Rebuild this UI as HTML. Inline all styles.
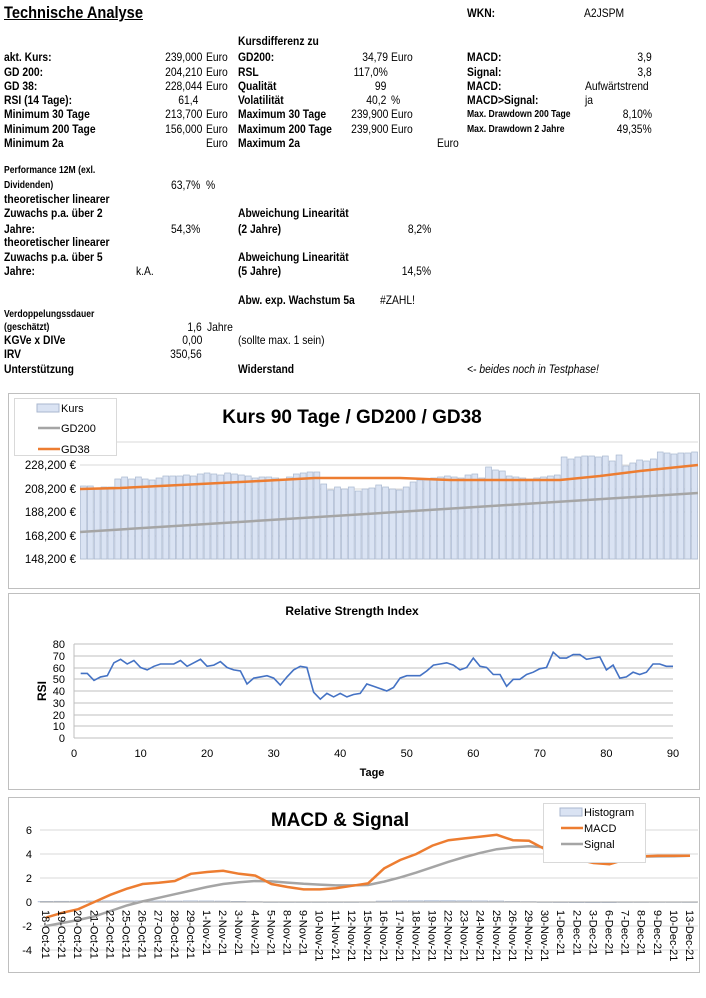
<!DOCTYPE html>
<html><head><meta charset="utf-8"><style>
body{margin:0;width:706px;height:998px;background:#fff;position:relative;overflow:hidden;font-family:"Liberation Sans",sans-serif}
.t,.r,.n,.nr{position:absolute;white-space:nowrap;font-size:12px;line-height:14px;color:#000}
.t,.r{font-weight:bold}
.t,.n{transform:scaleX(.86);transform-origin:left}
.r,.nr{transform:scaleX(.86);transform-origin:right}
.s{font-size:10px}
svg{position:absolute;left:0;top:0}
</style></head><body>
<div class="t" style="left:4px;top:3px;font-size:17px;line-height:20px;text-decoration:underline">Technische Analyse</div>
<div class="t" style="left:467px;top:6px">WKN:</div>
<div class="n" style="left:584px;top:6px">A2JSPM</div>

<div class="t" style="left:238px;top:34px">Kursdifferenz zu</div>
<div class="t" style="left:4px;top:50px">akt. Kurs:</div><div class="nr" style="right:504px;top:50px">239,000</div><div class="n" style="left:206px;top:50px">Euro</div>
<div class="t" style="left:238px;top:50px">GD200:</div><div class="nr" style="right:318px;top:50px">34,79</div><div class="n" style="left:391px;top:50px">Euro</div>
<div class="t" style="left:467px;top:50px">MACD:</div><div class="nr" style="right:54px;top:50px">3,9</div>

<div class="t" style="left:4px;top:65px">GD 200:</div><div class="nr" style="right:504px;top:65px">204,210</div><div class="n" style="left:206px;top:65px">Euro</div>
<div class="t" style="left:238px;top:65px">RSL</div><div class="nr" style="right:318px;top:65px">117,0%</div>
<div class="t" style="left:467px;top:65px">Signal:</div><div class="nr" style="right:54px;top:65px">3,8</div>

<div class="t" style="left:4px;top:79px">GD 38:</div><div class="nr" style="right:504px;top:79px">228,044</div><div class="n" style="left:206px;top:79px">Euro</div>
<div class="t" style="left:238px;top:79px">Qualität</div><div class="nr" style="right:320px;top:79px">99</div>
<div class="t" style="left:467px;top:79px">MACD:</div><div class="n" style="left:585px;top:79px">Aufwärtstrend</div>

<div class="t" style="left:4px;top:93px">RSI (14 Tage):</div><div class="nr" style="right:508px;top:93px">61,4</div>
<div class="t" style="left:238px;top:93px">Volatilität</div><div class="nr" style="right:320px;top:93px">40,2</div><div class="n" style="left:391px;top:93px">%</div>
<div class="t" style="left:467px;top:93px">MACD&gt;Signal:</div><div class="n" style="left:585px;top:93px">ja</div>

<div class="t" style="left:4px;top:107px">Minimum 30 Tage</div><div class="nr" style="right:504px;top:107px">213,700</div><div class="n" style="left:206px;top:107px">Euro</div>
<div class="t" style="left:238px;top:107px">Maximum 30 Tage</div><div class="nr" style="right:318px;top:107px">239,900</div><div class="n" style="left:391px;top:107px">Euro</div>
<div class="t s" style="left:467px;top:108px">Max. Drawdown 200 Tage</div><div class="nr" style="right:54px;top:107px">8,10%</div>

<div class="t" style="left:4px;top:122px">Minimum 200 Tage</div><div class="nr" style="right:504px;top:122px">156,000</div><div class="n" style="left:206px;top:122px">Euro</div>
<div class="t" style="left:238px;top:122px">Maximum 200 Tage</div><div class="nr" style="right:318px;top:122px">239,900</div><div class="n" style="left:391px;top:122px">Euro</div>
<div class="t s" style="left:467px;top:123px">Max. Drawdown 2 Jahre</div><div class="nr" style="right:54px;top:122px">49,35%</div>

<div class="t" style="left:4px;top:136px">Minimum 2a</div><div class="n" style="left:206px;top:136px">Euro</div>
<div class="t" style="left:238px;top:136px">Maximum 2a</div><div class="n" style="left:437px;top:136px">Euro</div>

<div class="t s" style="left:4px;top:164px">Performance 12M (exl.</div>
<div class="t s" style="left:4px;top:179px">Dividenden)</div><div class="n" style="left:171px;top:178px">63,7%</div><div class="n" style="left:206px;top:178px">%</div>
<div class="t" style="left:4px;top:192px">theoretischer linearer</div>
<div class="t" style="left:4px;top:206px">Zuwachs p.a. über 2</div><div class="t" style="left:238px;top:206px">Abweichung Linearität</div>
<div class="t" style="left:4px;top:222px">Jahre:</div><div class="n" style="left:171px;top:222px">54,3%</div><div class="t" style="left:238px;top:222px">(2 Jahre)</div><div class="nr" style="right:275px;top:222px">8,2%</div>
<div class="t" style="left:4px;top:235px">theoretischer linearer</div>
<div class="t" style="left:4px;top:250px">Zuwachs p.a. über 5</div><div class="t" style="left:238px;top:250px">Abweichung Linearität</div>
<div class="t" style="left:4px;top:264px">Jahre:</div><div class="n" style="left:136px;top:264px">k.A.</div><div class="t" style="left:238px;top:264px">(5 Jahre)</div><div class="nr" style="right:275px;top:264px">14,5%</div>
<div class="t" style="left:238px;top:293px">Abw. exp. Wachstum 5a</div><div class="n" style="left:380px;top:293px">#ZAHL!</div>
<div class="t s" style="left:4px;top:308px">Verdoppelungssdauer</div>
<div class="t s" style="left:4px;top:321px">(geschätzt)</div><div class="nr" style="right:504px;top:320px">1,6</div><div class="n" style="left:207px;top:320px">Jahre</div>
<div class="t" style="left:4px;top:333px">KGVe x DIVe</div><div class="nr" style="right:504px;top:333px">0,00</div><div class="n" style="left:238px;top:333px">(sollte max. 1 sein)</div>
<div class="t" style="left:4px;top:347px">IRV</div><div class="nr" style="right:504px;top:347px">350,56</div>
<div class="t" style="left:4px;top:362px">Unterstützung</div><div class="t" style="left:238px;top:362px">Widerstand</div>
<div class="n" style="left:467px;top:362px;font-style:italic">&lt;- beides noch in Testphase!</div>

<svg width="706" height="998" font-family="Liberation Sans, sans-serif">
<!-- chart1 -->
<rect x="8.5" y="393.5" width="691" height="195" fill="#fff" stroke="#bfbfbf"/>
<g stroke="#d9d9d9"><line x1="80" x2="698" y1="442" y2="442"/><line x1="80" x2="698" y1="465" y2="465"/><line x1="80" x2="698" y1="489" y2="489"/><line x1="80" x2="698" y1="512" y2="512"/><line x1="80" x2="698" y1="536" y2="536"/><line x1="80" x2="698" y1="559" y2="559"/></g>
<g id="bars" fill="#dae3f3" stroke="#a9b7cf" stroke-width="0.7"></g>
<polyline id="gd200" fill="none" stroke="#a5a5a5" stroke-width="2.5" points="80,532 698,493"/>
<polyline fill="none" stroke="#ed7d31" stroke-width="2.5" points="80,489 120,488 200,484 260,481 315,478 400,478 450,480 560,480 600,476 640,471 698,465"/>
<g font-size="11.5" text-anchor="end"><text x="76" y="469">228,200 €</text><text x="76" y="493">208,200 €</text><text x="76" y="516">188,200 €</text><text x="76" y="540">168,200 €</text><text x="76" y="563">148,200 €</text></g>
<text x="352" y="423" font-size="19" font-weight="bold" text-anchor="middle">Kurs 90 Tage / GD200 / GD38</text>
<rect x="14.5" y="398.5" width="102" height="57" fill="#fff" stroke="#d9d9d9"/>
<rect x="37" y="404" width="22" height="8" fill="#dae3f3" stroke="#a9b7cf"/>
<text x="61" y="412" font-size="11">Kurs</text>
<line x1="38" x2="60" y1="428" y2="428" stroke="#a5a5a5" stroke-width="2.5"/><text x="61" y="432" font-size="11">GD200</text>
<line x1="38" x2="60" y1="449" y2="449" stroke="#ed7d31" stroke-width="2.5"/><text x="61" y="453" font-size="11">GD38</text>

<!-- chart2 -->
<rect x="8.5" y="593.5" width="691" height="196" fill="#fff" stroke="#bfbfbf"/>
<g stroke="#bfbfbf"><line x1="74" x2="673" y1="644" y2="644"/><line x1="74" x2="673" y1="656" y2="656"/><line x1="74" x2="673" y1="668" y2="668"/><line x1="74" x2="673" y1="679" y2="679"/><line x1="74" x2="673" y1="691" y2="691"/><line x1="74" x2="673" y1="703" y2="703"/><line x1="74" x2="673" y1="715" y2="715"/><line x1="74" x2="673" y1="726" y2="726"/><line x1="74" x2="673" y1="738" y2="738"/><line x1="74" x2="74" y1="644" y2="738"/></g>
<polyline id="rsi" fill="none" stroke="#4472c4" stroke-width="1.6"/>
<text x="352" y="615" font-size="12" font-weight="bold" text-anchor="middle">Relative Strength Index</text>
<g font-size="11" text-anchor="end"><text x="65" y="648">80</text><text x="65" y="660">70</text><text x="65" y="672">60</text><text x="65" y="683">50</text><text x="65" y="695">40</text><text x="65" y="707">30</text><text x="65" y="719">20</text><text x="65" y="730">10</text><text x="65" y="742">0</text></g>
<g font-size="11" text-anchor="middle"><text x="74" y="757">0</text><text x="140.6" y="757">10</text><text x="207.1" y="757">20</text><text x="273.7" y="757">30</text><text x="340.2" y="757">40</text><text x="406.8" y="757">50</text><text x="473.3" y="757">60</text><text x="539.9" y="757">70</text><text x="606.4" y="757">80</text><text x="673" y="757">90</text></g>
<text x="372" y="776" font-size="11" font-weight="bold" text-anchor="middle">Tage</text>
<text x="46" y="691" font-size="12" font-weight="bold" text-anchor="middle" transform="rotate(-90 46 691)">RSI</text>

<!-- chart3 -->
<rect x="8.5" y="797.5" width="691" height="175" fill="#fff" stroke="#bfbfbf"/>
<g stroke="#d9d9d9"><line x1="40" x2="698" y1="830" y2="830"/><line x1="40" x2="698" y1="854" y2="854"/><line x1="40" x2="698" y1="878" y2="878"/><line x1="40" x2="698" y1="926" y2="926"/><line x1="40" x2="698" y1="950" y2="950"/></g>
<g id="hist" fill="#dae3f3" stroke="#b4c0d6" stroke-width="0.5"></g>
<line x1="40" x2="698" y1="902" y2="902" stroke="#a0a0a0"/>
<polyline id="sig" fill="none" stroke="#a5a5a5" stroke-width="2.5"/>
<polyline id="macd" fill="none" stroke="#ed7d31" stroke-width="2.5"/>
<text x="340" y="826" font-size="19" font-weight="bold" text-anchor="middle">MACD &amp; Signal</text>
<g font-size="11" text-anchor="end"><text x="32" y="834">6</text><text x="32" y="858">4</text><text x="32" y="882">2</text><text x="32" y="906">0</text><text x="32" y="930">-2</text><text x="32" y="954">-4</text></g>
<rect x="543.5" y="803.5" width="102" height="59" fill="#fff" stroke="#d9d9d9"/>
<rect x="560" y="808" width="22" height="8" fill="#dae3f3" stroke="#a9b7cf"/><text x="584" y="816" font-size="11">Histogram</text>
<line x1="561" x2="583" y1="828" y2="828" stroke="#ed7d31" stroke-width="2.5"/><text x="584" y="832" font-size="11">MACD</text>
<line x1="561" x2="583" y1="844" y2="844" stroke="#a5a5a5" stroke-width="2.5"/><text x="584" y="848" font-size="11">Signal</text>
<g id="dl" font-size="11">
<text transform="translate(42,910) rotate(90)">18-Oct-21</text><text transform="translate(58.1,910) rotate(90)">19-Oct-21</text><text transform="translate(74.2,910) rotate(90)">20-Oct-21</text><text transform="translate(90.3,910) rotate(90)">21-Oct-21</text><text transform="translate(106.4,910) rotate(90)">22-Oct-21</text><text transform="translate(122.5,910) rotate(90)">25-Oct-21</text><text transform="translate(138.6,910) rotate(90)">26-Oct-21</text><text transform="translate(154.7,910) rotate(90)">27-Oct-21</text><text transform="translate(170.8,910) rotate(90)">28-Oct-21</text><text transform="translate(186.9,910) rotate(90)">29-Oct-21</text>
<text transform="translate(203,910) rotate(90)">1-Nov-21</text><text transform="translate(219.1,910) rotate(90)">2-Nov-21</text><text transform="translate(235.2,910) rotate(90)">3-Nov-21</text><text transform="translate(251.3,910) rotate(90)">4-Nov-21</text><text transform="translate(267.4,910) rotate(90)">5-Nov-21</text><text transform="translate(283.5,910) rotate(90)">8-Nov-21</text><text transform="translate(299.6,910) rotate(90)">9-Nov-21</text><text transform="translate(315.7,910) rotate(90)">10-Nov-21</text><text transform="translate(331.8,910) rotate(90)">11-Nov-21</text><text transform="translate(347.9,910) rotate(90)">12-Nov-21</text><text transform="translate(364,910) rotate(90)">15-Nov-21</text><text transform="translate(380.1,910) rotate(90)">16-Nov-21</text><text transform="translate(396.2,910) rotate(90)">17-Nov-21</text><text transform="translate(412.3,910) rotate(90)">18-Nov-21</text><text transform="translate(428.4,910) rotate(90)">19-Nov-21</text><text transform="translate(444.5,910) rotate(90)">22-Nov-21</text><text transform="translate(460.6,910) rotate(90)">23-Nov-21</text><text transform="translate(476.7,910) rotate(90)">24-Nov-21</text><text transform="translate(492.8,910) rotate(90)">25-Nov-21</text><text transform="translate(508.9,910) rotate(90)">26-Nov-21</text><text transform="translate(525,910) rotate(90)">29-Nov-21</text><text transform="translate(541.1,910) rotate(90)">30-Nov-21</text>
<text transform="translate(557.2,910) rotate(90)">1-Dec-21</text><text transform="translate(573.3,910) rotate(90)">2-Dec-21</text><text transform="translate(589.4,910) rotate(90)">3-Dec-21</text><text transform="translate(605.5,910) rotate(90)">6-Dec-21</text><text transform="translate(621.6,910) rotate(90)">7-Dec-21</text><text transform="translate(637.7,910) rotate(90)">8-Dec-21</text><text transform="translate(653.8,910) rotate(90)">9-Dec-21</text><text transform="translate(669.9,910) rotate(90)">10-Dec-21</text><text transform="translate(686,910) rotate(90)">13-Dec-21</text>
</g>
</svg>
<script>
var ns="http://www.w3.org/2000/svg";
var K=[486,486,488,487,487,479,477,479,477,479,480,478,476,476,476,475,476,474,473,474,475,473,474,475,476,478,477,477,478,479,477,474,473,472,472,484,490,487,489,487,491,489,488,485,487,489,490,487,482,480,480,478,477,476,477,478,475,474,478,467,470,471,476,477,478,479,478,477,476,475,457,459,457,456,456,457,456,461,455,466,463,460,461,459,452,453,454,453,453,452];
var g=document.getElementById('bars'),w=618/90;
K.forEach(function(v,i){var r=document.createElementNS(ns,'rect');r.setAttribute('x',80+i*w+0.5);r.setAttribute('y',v);r.setAttribute('width',w-1);r.setAttribute('height',559-v);g.appendChild(r);});
var R=[55,55,49,52,53,64,67,63,66,60,58,61,63,63,63,66,61,64,67,61,62,65,60,58,57,46,51,52,53,51,45,52,58,61,60,39,33,38,35,38,35,37,38,46,44,42,40,43,51,53,53,53,57,62,63,64,62,58,60,68,61,60,54,54,44,50,50,54,56,59,60,73,68,68,71,71,67,68,69,58,62,51,52,56,54,56,63,63,61,61];
document.getElementById('rsi').setAttribute('points',R.map(function(v,i){return (74+(i+1)*599/90).toFixed(1)+','+(738-v*1.175).toFixed(1)}).join(' '));
var M=[-1.3,-0.9,-0.6,0,0.6,1.1,1.5,1.6,1.75,2.35,2.5,2.6,2.35,2.2,1.5,1.25,1.05,1.05,1.15,1.35,1.55,2.8,3.5,4,4.7,5.15,5.3,5.45,5.6,5.15,5.1,4.4,3.8,3.55,3.25,3.15,3.55,3.8,3.85,3.85,3.85];
var S=[-2,-1.75,-1.5,-1.2,-0.75,-0.3,0.05,0.35,0.65,0.95,1.25,1.5,1.65,1.75,1.72,1.62,1.52,1.45,1.38,1.38,1.42,1.7,2.05,2.45,2.9,3.35,3.75,4.1,4.4,4.55,4.65,4.55,4.4,4.25,4.05,3.85,3.78,3.78,3.8,3.82,3.85];
function pts(a){return a.map(function(v,i){return (46+i*16.1).toFixed(1)+','+(902-v*12).toFixed(1)}).join(' ')}
document.getElementById('macd').setAttribute('points',pts(M));
document.getElementById('sig').setAttribute('points',pts(S));
var H=document.getElementById('hist');
M.forEach(function(v,i){var d=(v-S[i])*0.08;var r=document.createElementNS(ns,'rect');var h=Math.abs(d)*12;r.setAttribute('x',38+i*16.1);r.setAttribute('width',15);r.setAttribute('y',d>0?902-h:902);r.setAttribute('height',Math.max(h,0.5));H.appendChild(r);});
</script>
</body></html>
